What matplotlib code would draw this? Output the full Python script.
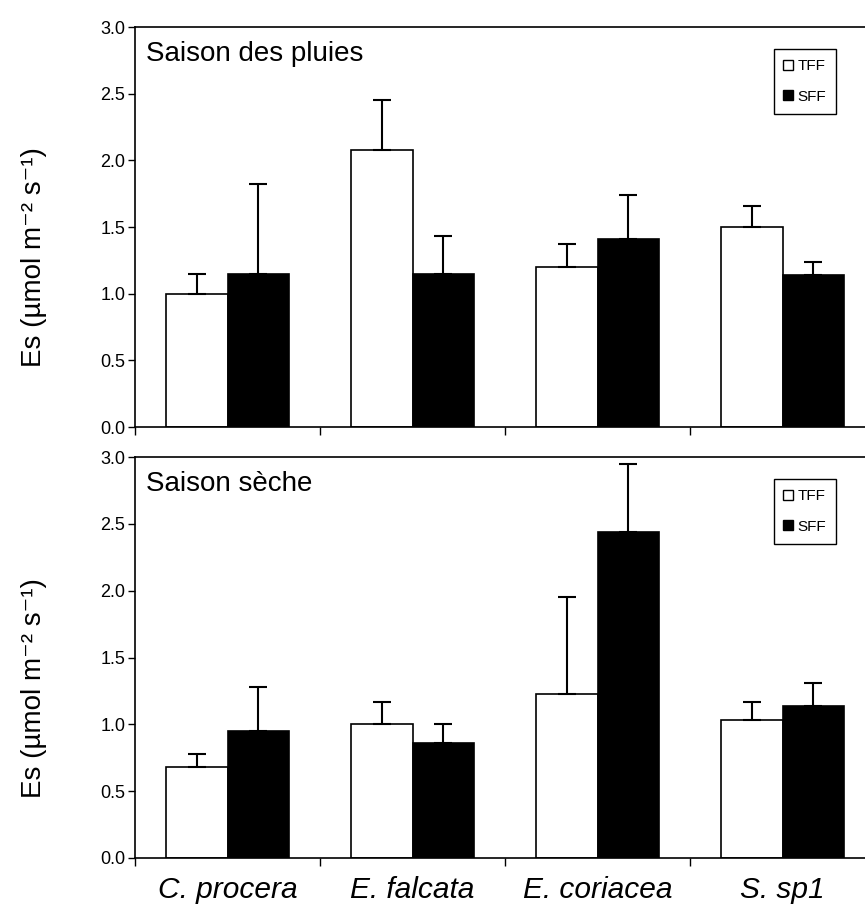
import matplotlib
matplotlib.use("Agg")
import matplotlib.pyplot as plt
from matplotlib.lines import Line2D
import numpy as np

plt.rcParams['font.family'] = ['Liberation Sans', 'DejaVu Sans']

species = ["C. procera", "E. falcata", "E. coriacea", "S. sp1"]
series = ["TFF", "SFF"]

# Saison des pluies
wet_tff = [1.00, 2.08, 1.20, 1.50]
wet_tff_err = [0.15, 0.37, 0.17, 0.16]
wet_sff = [1.15, 1.15, 1.41, 1.14]
wet_sff_err = [0.67, 0.28, 0.33, 0.10]

# Saison sèche
dry_tff = [0.68, 1.00, 1.23, 1.03]
dry_tff_err = [0.10, 0.17, 0.72, 0.14]
dry_sff = [0.95, 0.86, 2.44, 1.14]
dry_sff_err = [0.33, 0.14, 0.51, 0.17]

titles = ["Saison des pluies", "Saison sèche"]
yticks = [0.0, 0.5, 1.0, 1.5, 2.0, 2.5, 3.0]
ylabel = "Es (µmol m\u207b\u00b2 s\u207b\u00b9)"

W, H = 865, 917
fig = plt.figure(figsize=(W / 100, H / 100), dpi=100)

left = 135 / W
width = (W - 135) / W
ax_top = fig.add_axes([left, (H - 427) / H, width, 400 / H])
ax_bot = fig.add_axes([left, (H - 858) / H, width, 401 / H])

x = np.arange(len(species))
bw = 0.335

panels = [
    (ax_top, wet_tff, wet_tff_err, wet_sff, wet_sff_err, titles[0]),
    (ax_bot, dry_tff, dry_tff_err, dry_sff, dry_sff_err, titles[1]),
]

for ax, t, te, s, se, title in panels:
    ax.bar(x - bw / 2, t, bw, color="white", edgecolor="black", linewidth=1.2, zorder=2)
    ax.bar(x + bw / 2, s, bw, color="black", edgecolor="black", linewidth=1.2, zorder=2)
    ax.errorbar(x - bw / 2, t, yerr=[np.zeros(len(t)), te], fmt="none",
                ecolor="black", elinewidth=1.5, capsize=6.5, capthick=1.5, zorder=3)
    ax.errorbar(x + bw / 2, s, yerr=[np.zeros(len(s)), se], fmt="none",
                ecolor="black", elinewidth=1.5, capsize=6.5, capthick=1.5, zorder=3)
    ax.set_ylim(0, 3.0)
    ax.set_xlim(-0.5, -0.5 + 730 / 185)
    ax.set_yticks(yticks)
    ax.set_yticklabels([f"{v:.1f}" for v in yticks], fontsize=13)
    ax.tick_params(axis="y", direction="out", length=5, width=1, pad=2)
    ax.set_xticks([-0.5, 0.5, 1.5, 2.5])
    ax.set_xticklabels([])
    ax.tick_params(axis="x", which="major", direction="out", length=6, width=1)
    ax.spines["right"].set_visible(False)
    for sp in ["left", "top", "bottom"]:
        ax.spines[sp].set_linewidth(1.2)
    ax.text(0.015, 0.965, title, transform=ax.transAxes, fontsize=20,
            ha="left", va="top")
    ax.set_ylabel(ylabel, fontsize=20)
    ax.yaxis.set_label_coords(-88 / 730, 0.425)
    handles = [
        Line2D([], [], marker="s", linestyle="none", markerfacecolor="white",
               markeredgecolor="black", markersize=7, markeredgewidth=1),
        Line2D([], [], marker="s", linestyle="none", markerfacecolor="black",
               markeredgecolor="black", markersize=7, markeredgewidth=1),
    ]
    leg = ax.legend(handles, series, loc="upper left", bbox_to_anchor=(0.875, 0.945),
                    fontsize=11, frameon=True, fancybox=False, framealpha=1,
                    edgecolor="black", handlelength=0.6, handletextpad=0.3,
                    labelspacing=1.1, borderpad=0.65, borderaxespad=0)
    leg.get_frame().set_linewidth(1.0)

ax_bot.set_xticks(x, minor=True)
ax_bot.set_xticklabels(species, minor=True, fontsize=21.5, style="italic")
ax_bot.tick_params(axis="x", which="minor", length=0, pad=13)

fig.savefig("out.png", dpi=100)
